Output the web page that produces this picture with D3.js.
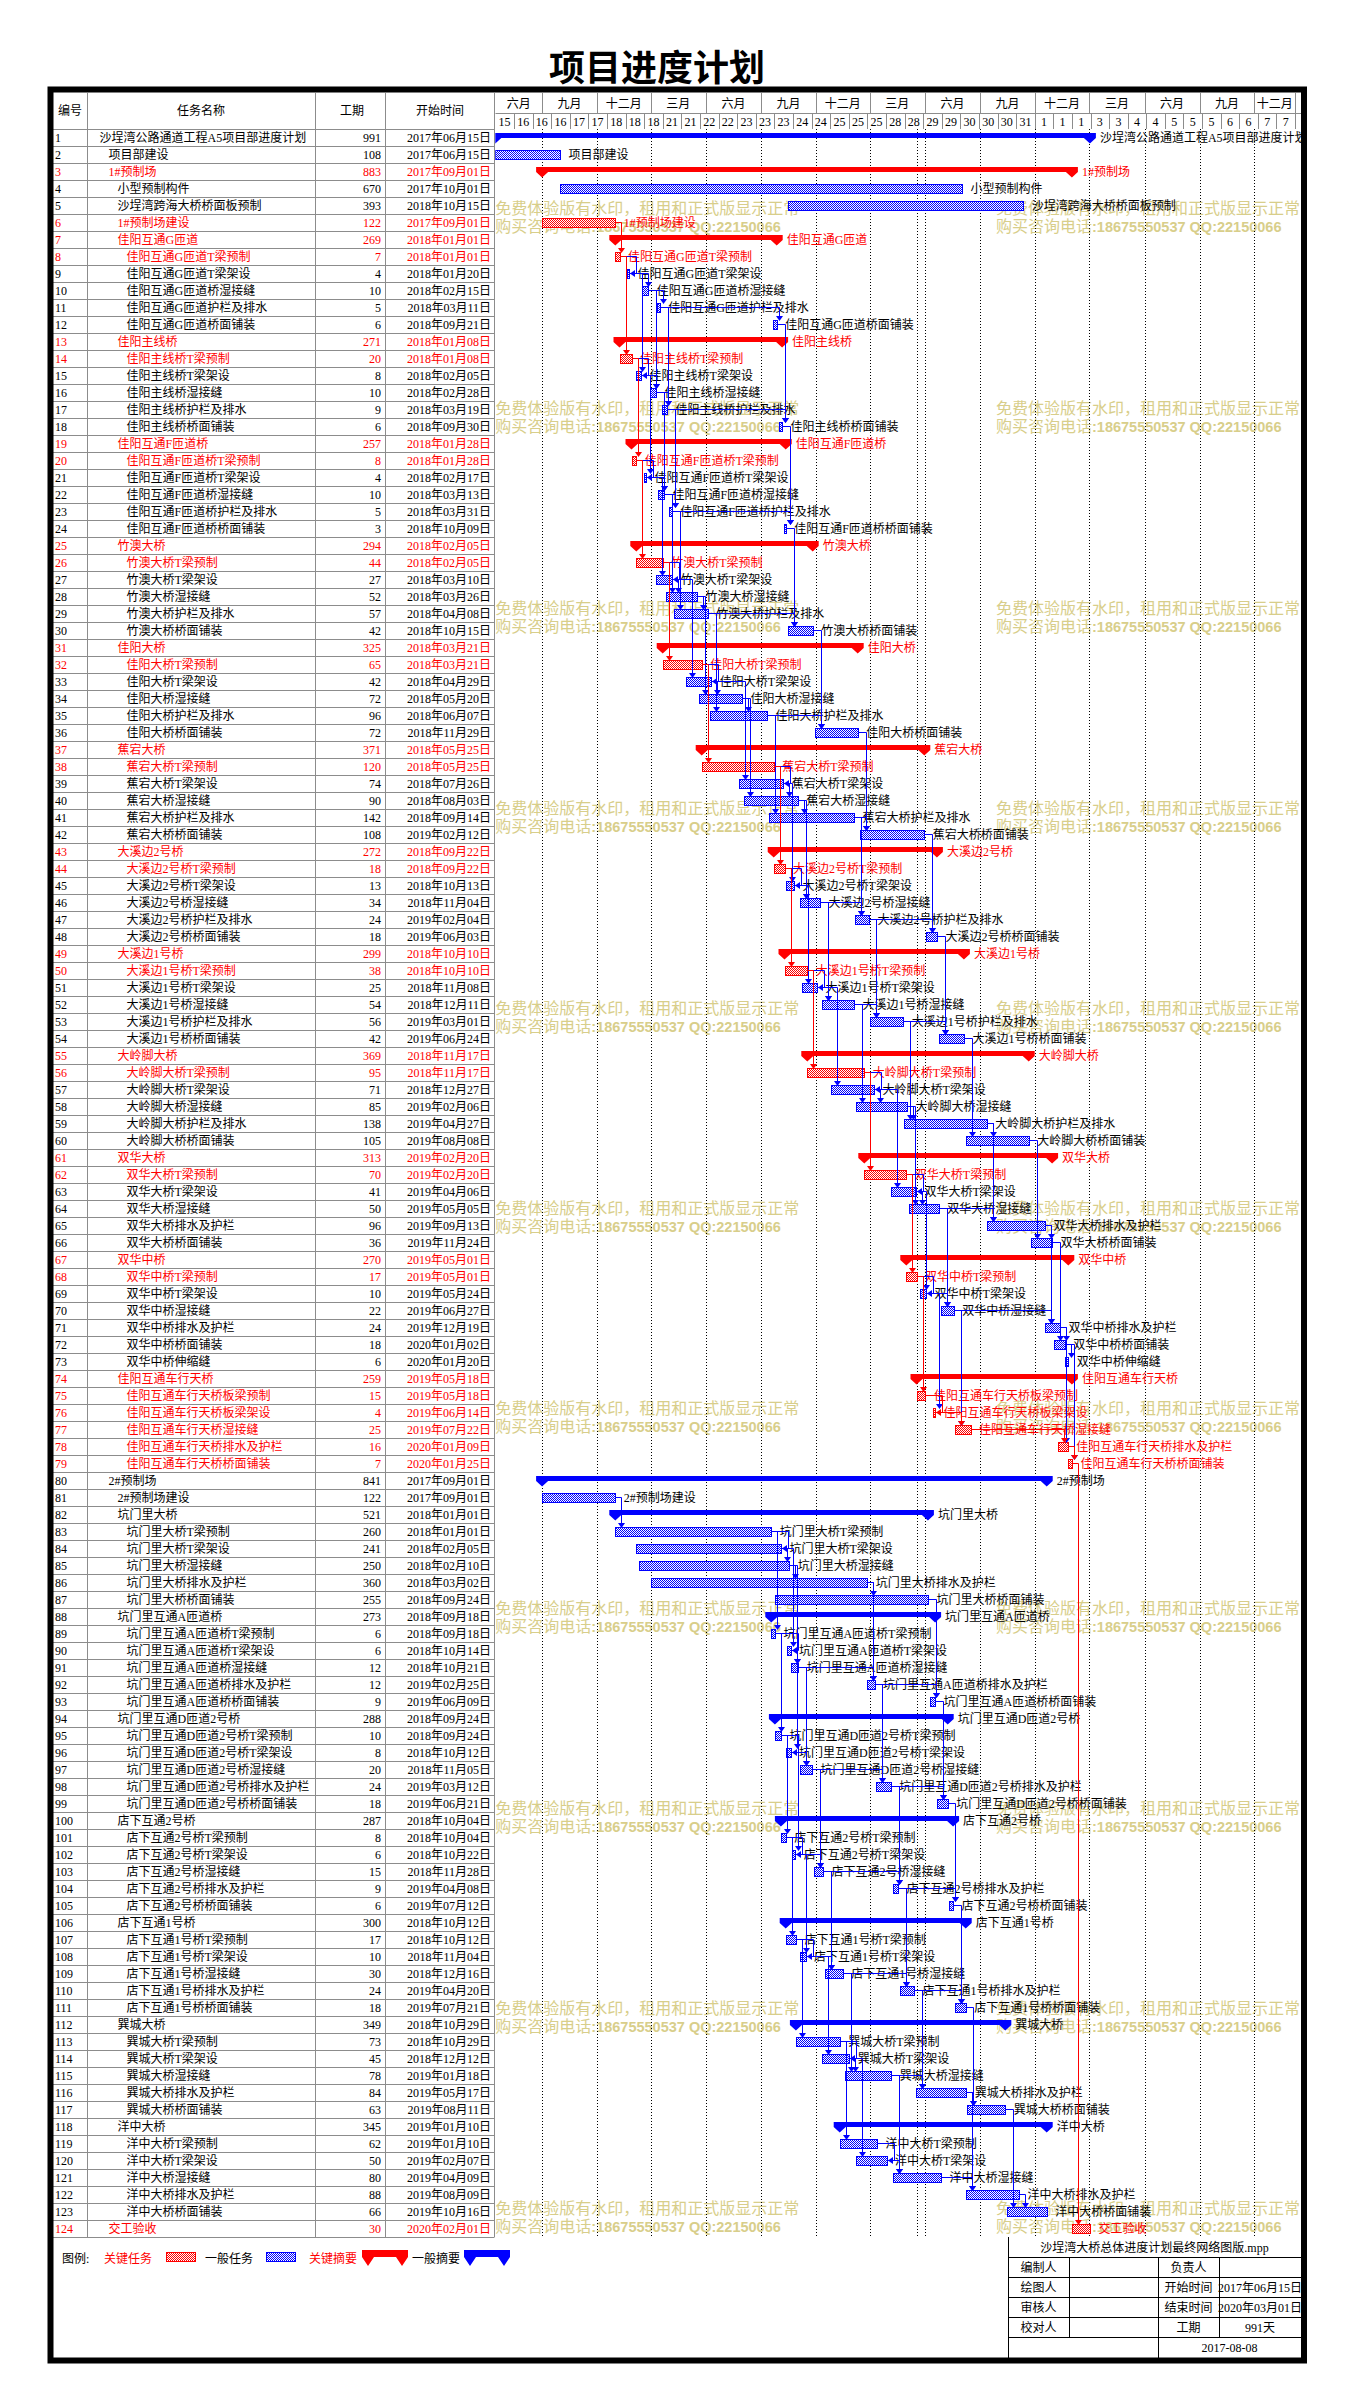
<!DOCTYPE html>
<html lang="zh">
<head>
<meta charset="UTF-8">
<title>项目进度计划</title>
<script src="https://cdnjs.cloudflare.com/ajax/libs/d3/7.8.5/d3.min.js"></script>
<style>
  body { margin: 0; background: #fff; }
  svg text { font-family: "Liberation Serif", "Noto Sans CJK SC", serif; font-size: 12px; }
</style>
</head>
<body>
<svg id="chart" width="1352" height="2399"></svg>
<script>
const taskNames = [
  "沙埕湾公路通道工程A5项目部进度计划","项目部建设","1#预制场","小型预制构件","沙埕湾跨海大桥桥面板预制","1#预制场建设",
  "佳阳互通G匝道","佳阳互通G匝道T梁预制","佳阳互通G匝道T梁架设","佳阳互通G匝道桥湿接缝","佳阳互通G匝道护栏及排水","佳阳互通G匝道桥面铺装",
  "佳阳主线桥","佳阳主线桥T梁预制","佳阳主线桥T梁架设","佳阳主线桥湿接缝","佳阳主线桥护栏及排水","佳阳主线桥桥面铺装",
  "佳阳互通F匝道桥","佳阳互通F匝道桥T梁预制","佳阳互通F匝道桥T梁架设","佳阳互通F匝道桥湿接缝","佳阳互通F匝道桥护栏及排水","佳阳互通F匝道桥桥面铺装",
  "竹澳大桥","竹澳大桥T梁预制","竹澳大桥T梁架设","竹澳大桥湿接缝","竹澳大桥护栏及排水","竹澳大桥桥面铺装",
  "佳阳大桥","佳阳大桥T梁预制","佳阳大桥T梁架设","佳阳大桥湿接缝","佳阳大桥护栏及排水","佳阳大桥桥面铺装",
  "蕉宕大桥","蕉宕大桥T梁预制","蕉宕大桥T梁架设","蕉宕大桥湿接缝","蕉宕大桥护栏及排水","蕉宕大桥桥面铺装",
  "大溪边2号桥","大溪边2号桥T梁预制","大溪边2号桥T梁架设","大溪边2号桥湿接缝","大溪边2号桥护栏及排水","大溪边2号桥桥面铺装",
  "大溪边1号桥","大溪边1号桥T梁预制","大溪边1号桥T梁架设","大溪边1号桥湿接缝","大溪边1号桥护栏及排水","大溪边1号桥桥面铺装",
  "大岭脚大桥","大岭脚大桥T梁预制","大岭脚大桥T梁架设","大岭脚大桥湿接缝","大岭脚大桥护栏及排水","大岭脚大桥桥面铺装",
  "双华大桥","双华大桥T梁预制","双华大桥T梁架设","双华大桥湿接缝","双华大桥排水及护栏","双华大桥桥面铺装",
  "双华中桥","双华中桥T梁预制","双华中桥T梁架设","双华中桥湿接缝","双华中桥排水及护栏","双华中桥桥面铺装","双华中桥伸缩缝",
  "佳阳互通车行天桥","佳阳互通车行天桥板梁预制","佳阳互通车行天桥板梁架设","佳阳互通车行天桥湿接缝","佳阳互通车行天桥排水及护栏","佳阳互通车行天桥桥面铺装",
  "2#预制场","2#预制场建设",
  "坑门里大桥","坑门里大桥T梁预制","坑门里大桥T梁架设","坑门里大桥湿接缝","坑门里大桥排水及护栏","坑门里大桥桥面铺装",
  "坑门里互通A匝道桥","坑门里互通A匝道桥T梁预制","坑门里互通A匝道桥T梁架设","坑门里互通A匝道桥湿接缝","坑门里互通A匝道桥排水及护栏","坑门里互通A匝道桥桥面铺装",
  "坑门里互通D匝道2号桥","坑门里互通D匝道2号桥T梁预制","坑门里互通D匝道2号桥T梁架设","坑门里互通D匝道2号桥湿接缝","坑门里互通D匝道2号桥排水及护栏","坑门里互通D匝道2号桥桥面铺装",
  "店下互通2号桥","店下互通2号桥T梁预制","店下互通2号桥T梁架设","店下互通2号桥湿接缝","店下互通2号桥排水及护栏","店下互通2号桥桥面铺装",
  "店下互通1号桥","店下互通1号桥T梁预制","店下互通1号桥T梁架设","店下互通1号桥湿接缝","店下互通1号桥排水及护栏","店下互通1号桥桥面铺装",
  "巽城大桥","巽城大桥T梁预制","巽城大桥T梁架设","巽城大桥湿接缝","巽城大桥排水及护栏","巽城大桥桥面铺装",
  "洋中大桥","洋中大桥T梁预制","洋中大桥T梁架设","洋中大桥湿接缝","洋中大桥排水及护栏","洋中大桥桥面铺装",
  "交工验收"
];
const durations = [
  991,108,883,670,393,122, 269,7,4,10,5,6, 271,20,8,10,9,6, 257,8,4,10,5,3, 294,44,27,52,57,42,
  325,65,42,72,96,72, 371,120,74,90,142,108, 272,18,13,34,24,18, 299,38,25,54,56,42,
  369,95,71,85,138,105, 313,70,41,50,96,36, 270,17,10,22,24,18,6, 259,15,4,25,16,7,
  841,122, 521,260,241,250,360,255, 273,6,6,12,12,9, 288,10,8,20,24,18, 287,8,6,15,9,6,
  300,17,10,30,24,18, 349,73,45,78,84,63, 345,62,50,80,88,66, 30
];
const startDates = [
  "2017-06-15","2017-06-15","2017-09-01","2017-10-01","2018-10-15","2017-09-01",
  "2018-01-01","2018-01-01","2018-01-20","2018-02-15","2018-03-11","2018-09-21",
  "2018-01-08","2018-01-08","2018-02-05","2018-02-28","2018-03-19","2018-09-30",
  "2018-01-28","2018-01-28","2018-02-17","2018-03-13","2018-03-31","2018-10-09",
  "2018-02-05","2018-02-05","2018-03-10","2018-03-26","2018-04-08","2018-10-15",
  "2018-03-21","2018-03-21","2018-04-29","2018-05-20","2018-06-07","2018-11-29",
  "2018-05-25","2018-05-25","2018-07-26","2018-08-03","2018-09-14","2019-02-12",
  "2018-09-22","2018-09-22","2018-10-13","2018-11-04","2019-02-04","2019-06-03",
  "2018-10-10","2018-10-10","2018-11-08","2018-12-11","2019-03-01","2019-06-24",
  "2018-11-17","2018-11-17","2018-12-27","2019-02-06","2019-04-27","2019-08-08",
  "2019-02-20","2019-02-20","2019-04-06","2019-05-05","2019-09-13","2019-11-24",
  "2019-05-01","2019-05-01","2019-05-24","2019-06-27","2019-12-19","2020-01-02","2020-01-20",
  "2019-05-18","2019-05-18","2019-06-14","2019-07-22","2020-01-09","2020-01-25",
  "2017-09-01","2017-09-01",
  "2018-01-01","2018-01-01","2018-02-05","2018-02-10","2018-03-02","2018-09-24",
  "2018-09-18","2018-09-18","2018-10-14","2018-10-21","2019-02-25","2019-06-09",
  "2018-09-24","2018-09-24","2018-10-12","2018-11-05","2019-03-12","2019-06-21",
  "2018-10-04","2018-10-04","2018-10-22","2018-11-28","2019-04-08","2019-07-12",
  "2018-10-12","2018-10-12","2018-11-04","2018-12-16","2019-04-20","2019-07-21",
  "2018-10-29","2018-10-29","2018-12-12","2019-01-18","2019-05-17","2019-08-11",
  "2019-01-10","2019-01-10","2019-02-07","2019-04-09","2019-08-09","2019-10-16",
  "2020-02-01"
];
// outline level of each row
const levels = [
  1,2,2,3,3,3, 3,4,4,4,4,4, 3,4,4,4,4,4, 3,4,4,4,4,4, 3,4,4,4,4,4, 3,4,4,4,4,4, 3,4,4,4,4,4,
  3,4,4,4,4,4, 3,4,4,4,4,4, 3,4,4,4,4,4, 3,4,4,4,4,4, 3,4,4,4,4,4,4, 3,4,4,4,4,4,
  2,3, 3,4,4,4,4,4, 3,4,4,4,4,4, 3,4,4,4,4,4, 3,4,4,4,4,4, 3,4,4,4,4,4, 3,4,4,4,4,4, 3,4,4,4,4,4, 2
];
const summaryRows = [1,3,7,13,19,25,31,37,43,49,55,61,67,74,80,82,88,94,100,106,112,118];
const criticalRows = [3,6,7,8,13,14,19,20,25,26,31,32,37,38,43,44,49,50,55,56,61,62,67,68,74,75,76,77,78,79,124];
// bridge groups served by each precast yard (summary row ids)
const yard1Groups = [7,13,19,25,31,37,43,49,55,61,67,74];
const yard2Groups = [82,88,94,100,106,112,118];
const extraLinks = [[6,8],[81,83],[72,73],[79,124]];

const quarterLabels = ["六月","九月","十二月","三月","六月","九月","十二月","三月","六月","九月","十二月","三月","六月","九月","十二月"];
const dayLabels = ["15","16","16","16","17","17","18","18","18","21","21","22","22","23","23","23","24","24","25","25","25","28","28",
  "29","29","30","30","30","31","1","1","1","3","3","4","4","5","5","5","6","6","7","7"];
const projectStartText = "2017-06-15";
const firstQuarterText = "2017-06-01";
const markerDateText = "2019-05-18";

const headerCols = ["编号","任务名称","工期","开始时间"];
const infoTitle = "沙埕湾大桥总体进度计划最终网络图版.mpp";
const infoRows = [["编制人","","负责人",""],["绘图人","","开始时间","2017年06月15日"],["审核人","","结束时间","2020年03月01日"],["校对人","","工期","991天"]];
const infoDate = "2017-08-08";
const wmLine1 = "免费体验版有水印，租用和正式版显示正常";
const wmLine2a = "购买咨询电话", wmLine2b = ":18675550537 QQ:22150066";

// ---- layout ----
const RED = "#ff0000", BLUE = "#0000ff", GRID = "#8c8c8c";
const ROW0 = 129, ROWH = 17, N = taskNames.length;
const GL = 495.3, GR = 1301;
const TABLE_BOTTOM = ROW0 + ROWH * N;
const colX = [53, 87.5, 315.5, 385.5, 494.5];
const rowTop = id => ROW0 + ROWH * (id - 1);

const parse = d3.utcParse("%Y-%m-%d");
const fmt = d3.utcFormat("%Y年%m月%d日");
const projectStart = parse(projectStartText);
const x = d3.scaleUtc()
  .domain([projectStart, d3.utcDay.offset(projectStart, 1343)])
  .range([GL, GL + 0.6 * 1343]);

const tasks = taskNames.map((name, i) => {
  const id = i + 1, start = parse(startDates[i]);
  return { id, name, dur: durations[i], start, end: d3.utcDay.offset(start, durations[i]),
    level: levels[i], summary: summaryRows.includes(id), crit: criticalRows.includes(id) };
});
const byId = new Map(tasks.map(t => [t.id, t]));

const svg = d3.select("#chart");
const defs = svg.append("defs");
function hatch(id, color) {
  const p = defs.append("pattern").attr("id", id).attr("width", 2).attr("height", 2)
    .attr("patternUnits", "userSpaceOnUse");
  p.append("rect").attr("width", 2).attr("height", 2).attr("fill", "#fff");
  p.append("rect").attr("width", 1).attr("height", 1).attr("fill", color);
  p.append("rect").attr("x", 1).attr("y", 1).attr("width", 1).attr("height", 1).attr("fill", color);
}
hatch("hBlue", BLUE);
hatch("hRed", RED);
defs.append("clipPath").attr("id", "gclip").append("rect")
  .attr("x", GL).attr("y", ROW0).attr("width", GR - GL).attr("height", TABLE_BOTTOM - ROW0);
defs.append("clipPath").attr("id", "hclip").append("rect")
  .attr("x", GL).attr("y", 93).attr("width", GR - GL).attr("height", 36);

// title
svg.append("text").attr("x", 657).attr("y", 81).attr("text-anchor", "middle")
  .style("font-family", "'Noto Sans CJK SC', sans-serif").style("font-size", "36px").style("font-weight", "bold")
  .text("项目进度计划");

// ---- table ----
const table = svg.append("g");
table.selectAll("line.row").data(d3.range(N + 1)).enter().append("line")
  .attr("x1", colX[0]).attr("x2", colX[4]).attr("y1", i => ROW0 + i * ROWH + 0.5).attr("y2", i => ROW0 + i * ROWH + 0.5)
  .attr("stroke", GRID);
table.selectAll("line.col").data(colX.slice(1)).enter().append("line")
  .attr("x1", d => d).attr("x2", d => d).attr("y1", 93).attr("y2", TABLE_BOTTOM)
  .attr("stroke", GRID);
const headCenters = [70, 201, 352, 440];
table.selectAll("text.head").data(headerCols).enter().append("text")
  .attr("x", (d, i) => headCenters[i]).attr("y", 115).attr("text-anchor", "middle").text(d => d);

const rows = table.selectAll("g.task").data(tasks).enter().append("g")
  .attr("fill", d => d.crit ? RED : "#000");
rows.append("text").attr("x", 55).attr("y", d => rowTop(d.id) + 13).text(d => d.id);
rows.append("text").attr("x", d => 90.5 + 9 * d.level).attr("y", d => rowTop(d.id) + 13).text(d => d.name);
rows.append("text").attr("x", 381).attr("y", d => rowTop(d.id) + 13).attr("text-anchor", "end").text(d => d.dur);
rows.append("text").attr("x", 491).attr("y", d => rowTop(d.id) + 13).attr("text-anchor", "end").text(d => fmt(d.start));

// ---- timescale header ----
const header = svg.append("g").attr("clip-path", "url(#hclip)");
const dayCells = dayLabels.map((lab, i) => ({ lab,
  x0: x(d3.utcDay.offset(projectStart, 31 * i)), x1: x(d3.utcDay.offset(projectStart, 31 * (i + 1))) }));
const headerRight = dayCells[dayCells.length - 1].x1;
const qStart = parse(firstQuarterText);
const quarterCells = quarterLabels.map((lab, i) => ({ lab,
  x0: Math.max(GL, x(d3.utcMonth.offset(qStart, 3 * i))),
  x1: Math.min(headerRight, x(d3.utcMonth.offset(qStart, 3 * (i + 1)))) }));
header.append("line").attr("x1", GL).attr("x2", GR).attr("y1", 113.5).attr("y2", 113.5).attr("stroke", GRID);
header.selectAll("line.q").data(quarterCells).enter().append("line")
  .attr("x1", d => Math.round(d.x1) + 0.5).attr("x2", d => Math.round(d.x1) + 0.5).attr("y1", 93).attr("y2", 113)
  .attr("stroke", GRID);
header.selectAll("text.q").data(quarterCells).enter().append("text")
  .attr("x", d => (d.x0 + d.x1) / 2).attr("y", 108).attr("text-anchor", "middle").text(d => d.lab);
header.selectAll("line.d").data(dayCells).enter().append("line")
  .attr("x1", d => Math.round(d.x1) + 0.5).attr("x2", d => Math.round(d.x1) + 0.5).attr("y1", 113).attr("y2", 129)
  .attr("stroke", GRID);
header.selectAll("text.d").data(dayCells).enter().append("text")
  .attr("x", d => (d.x0 + d.x1) / 2).attr("y", 125.5).attr("text-anchor", "middle").text(d => d.lab);

// ---- gantt ----
const gantt = svg.append("g").attr("clip-path", "url(#gclip)");

// watermark
const wm = gantt.append("g").attr("fill", "#d8ce8a");
d3.range(11).forEach(k => {
  [GL, 996].forEach(wx => {
    wm.append("text").attr("x", wx).attr("y", 214 + 200 * k)
      .style("font-family", "'Noto Sans CJK SC', sans-serif").style("font-size", "16px").text(wmLine1);
    const t = wm.append("text").attr("x", wx).attr("y", 232 + 200 * k)
      .style("font-family", "'Noto Sans CJK SC', sans-serif").style("font-size", "16px");
    t.append("tspan").text(wmLine2a);
    t.append("tspan").style("font-family", "'Liberation Sans', sans-serif").style("font-weight", "bold")
      .style("font-size", "14.5px").text(wmLine2b);
  });
});

// dotted quarter lines
const gridDates = quarterCells.map((d, i) => d3.utcMonth.offset(qStart, 3 * i)).filter(d => d > projectStart);
gridDates.push(parse(markerDateText));
gantt.selectAll("line.grid").data(gridDates).enter().append("line")
  .attr("x1", d => Math.round(x(d)) + 0.5).attr("x2", d => Math.round(x(d)) + 0.5)
  .attr("y1", ROW0).attr("y2", TABLE_BOTTOM)
  .attr("stroke", "#000").attr("stroke-dasharray", "1,2");

// bars
const taskBars = tasks.filter(t => !t.summary);
gantt.selectAll("rect.bar").data(taskBars).enter().append("rect")
  .attr("x", d => Math.round(x(d.start)) + 0.5).attr("y", d => rowTop(d.id) + 4.5)
  .attr("width", d => Math.max(1, Math.round(x(d.end)) - Math.round(x(d.start))))
  .attr("height", 9)
  .attr("fill", d => d.crit ? "url(#hRed)" : "url(#hBlue)")
  .attr("stroke", d => d.crit ? RED : BLUE);

function summaryPath(x0, x1, top) {
  const a = top + 4, b = top + 9, c = top + 14.5;
  return `M${x0 - 6},${a}H${x1 + 6}V${b}L${x1},${c}L${x1 - 6},${b}H${x0 + 6}L${x0},${c}L${x0 - 6},${b}Z`;
}
gantt.selectAll("path.sum").data(tasks.filter(t => t.summary)).enter().append("path")
  .attr("d", d => summaryPath(x(d.start), x(d.end), rowTop(d.id)))
  .attr("fill", d => d.crit ? RED : BLUE);

// labels
gantt.selectAll("text.lab").data(tasks).enter().append("text")
  .attr("x", d => x(d.end) + (d.summary ? 10 : 8.5)).attr("y", d => rowTop(d.id) + 13)
  .attr("fill", d => d.crit ? RED : "#000").text(d => d.name);

// dependency links
const links = [];
[yard1Groups, yard2Groups].forEach(gs => {
  gs.forEach((g, gi) => {
    links.push({ from: g + 1, to: g + 2, type: "FF" });
    for (let k = 2; k < 5; k++) links.push({ from: g + k, to: g + k + 1, type: "FS" });
    if (gi < gs.length - 1) {
      const n = gs[gi + 1];
      for (let k = 1; k <= 5; k++) links.push({ from: g + k, to: n + k, type: "FS" });
    }
  });
});
extraLinks.forEach(([a, b]) => links.push({ from: a, to: b, type: "FS" }));

const linkG = gantt.append("g");
links.forEach(l => {
  const p = byId.get(l.from), s = byId.get(l.to);
  const color = p.crit && s.crit ? RED : BLUE;
  const pe = Math.round(x(p.end)), pm = rowTop(p.id) + 8.5;
  if (l.type === "FF") {
    const se = Math.round(x(s.end)) + 1, sm = rowTop(s.id) + 8.5;
    const X = Math.max(pe, se) + 6.5;
    linkG.append("path").attr("d", `M${pe},${pm}H${X}V${sm}H${se + 5}`)
      .attr("fill", "none").attr("stroke", color);
    linkG.append("path").attr("d", `M${se},${sm}L${se + 5},${sm - 3.5}L${se + 5},${sm + 3.5}Z`).attr("fill", color);
  } else {
    const ss = Math.round(x(s.start)), st = rowTop(s.id) + 4;
    const X = Math.max(pe, ss) + 6.5;
    linkG.append("path").attr("d", `M${pe},${pm}H${X}V${st - 4}`)
      .attr("fill", "none").attr("stroke", color);
    linkG.append("path").attr("d", `M${X},${st + 1}L${X - 3.5},${st - 4}L${X + 3.5},${st - 4}Z`).attr("fill", color);
  }
});

// ---- legend ----
const leg = svg.append("g");
const legY = 2263;
leg.append("text").attr("x", 62).attr("y", legY).text("图例:");
leg.append("text").attr("x", 104).attr("y", legY).attr("fill", RED).text("关键任务");
leg.append("rect").attr("x", 166.5).attr("y", 2252.5).attr("width", 29).attr("height", 9)
  .attr("fill", "url(#hRed)").attr("stroke", RED);
leg.append("text").attr("x", 205).attr("y", legY).text("一般任务");
leg.append("rect").attr("x", 266.5).attr("y", 2252.5).attr("width", 29).attr("height", 9)
  .attr("fill", "url(#hBlue)").attr("stroke", BLUE);
leg.append("text").attr("x", 309).attr("y", legY).attr("fill", RED).text("关键摘要");
function legSummary(x0, x1, color) {
  leg.append("path").attr("d", `M${x0},2250H${x1}V2257L${x1 - 6},2266L${x1 - 12},2257H${x0 + 12}L${x0 + 6},2266L${x0},2257Z`)
    .attr("fill", color);
}
legSummary(362, 408, RED);
leg.append("text").attr("x", 412).attr("y", legY).text("一般摘要");
legSummary(464, 510, BLUE);

// ---- info block ----
const info = svg.append("g");
const ib = { x0: 1008, x1: 1301, y0: TABLE_BOTTOM, rh: 20 };
const ibCols = [1008, 1069, 1158, 1219, 1301];
d3.range(1, 6).forEach(k => info.append("line").attr("x1", ib.x0).attr("x2", ib.x1)
  .attr("y1", ib.y0 + ib.rh * k + 0.5).attr("y2", ib.y0 + ib.rh * k + 0.5).attr("stroke", "#000"));
info.append("line").attr("x1", ib.x0 + 0.5).attr("x2", ib.x0 + 0.5).attr("y1", ib.y0).attr("y2", 2358).attr("stroke", "#000");
[ibCols[1], ibCols[3]].forEach(cx => info.append("line").attr("x1", cx + 0.5).attr("x2", cx + 0.5)
  .attr("y1", ib.y0 + ib.rh).attr("y2", ib.y0 + ib.rh * 5).attr("stroke", "#000"));
info.append("line").attr("x1", ibCols[2] + 0.5).attr("x2", ibCols[2] + 0.5)
  .attr("y1", ib.y0 + ib.rh).attr("y2", 2358).attr("stroke", "#000");
info.append("text").attr("x", (ib.x0 + ib.x1) / 2).attr("y", ib.y0 + 15).attr("text-anchor", "middle").text(infoTitle);
infoRows.forEach((r, ri) => r.forEach((txt, ci) => {
  info.append("text").attr("x", (ibCols[ci] + ibCols[ci + 1]) / 2).attr("y", ib.y0 + ib.rh * (ri + 1) + 15)
    .attr("text-anchor", "middle").text(txt);
}));
info.append("text").attr("x", (ibCols[2] + ibCols[4]) / 2).attr("y", ib.y0 + ib.rh * 5 + 15)
  .attr("text-anchor", "middle").text(infoDate);

// ---- outer frame ----
svg.append("rect").attr("x", 50.5).attr("y", 89.5).attr("width", 1253.5).attr("height", 2271)
  .attr("fill", "none").attr("stroke", "#000").attr("stroke-width", 6);
</script>
</body>
</html>
